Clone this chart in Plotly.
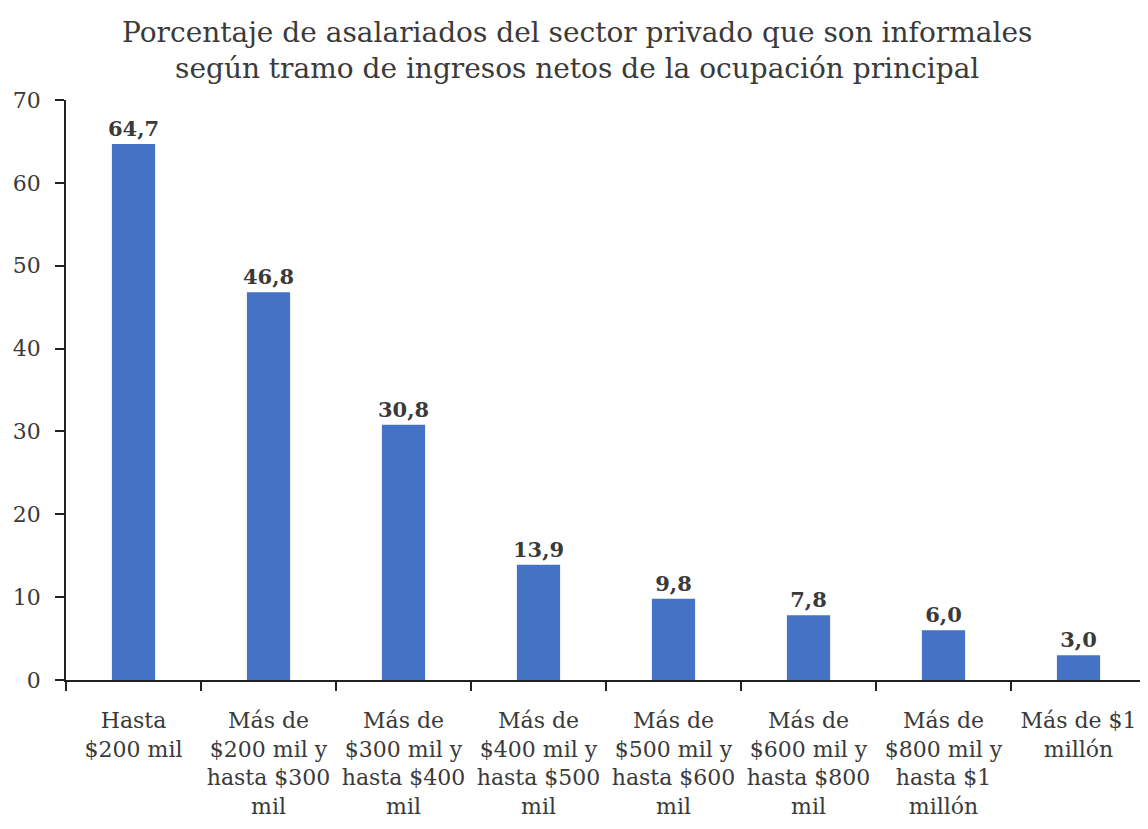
import plotly.graph_objects as go

# Data
categorias = [
    "Hasta<br>$200 mil",
    "Más de<br>$200 mil y<br>hasta $300<br>mil",
    "Más de<br>$300 mil y<br>hasta $400<br>mil",
    "Más de<br>$400 mil y<br>hasta $500<br>mil",
    "Más de<br>$500 mil y<br>hasta $600<br>mil",
    "Más de<br>$600 mil y<br>hasta $800<br>mil",
    "Más de<br>$800 mil y<br>hasta $1<br>millón",
    "Más de $1<br>millón",
]
porcentajes = [64.7, 46.8, 30.8, 13.9, 9.8, 7.8, 6.0, 3.0]

SERIF = "DejaVu Serif, Liberation Serif, serif"
TEXT = "#3a3a3a"

fig = go.Figure()

fig.add_trace(
    go.Bar(x=categorias,
           y=porcentajes,
           marker=dict(color="#4472C4", line=dict(width=0)),
           texttemplate="<b>%{y:.1f}</b>",
           textposition="outside",
           constraintext="none",
           cliponaxis=False,
           textfont=dict(family=SERIF, size=21, color=TEXT)))

# Title as annotation so both lines sit where the reference has them
fig.add_annotation(text="Porcentaje de asalariados del sector privado que son informales<br>"
                   "según tramo de ingresos netos de la ocupación principal",
                   xref="paper",
                   yref="paper",
                   x=0.4736,
                   y=1.086,
                   xanchor="center",
                   yanchor="middle",
                   showarrow=False,
                   align="center",
                   font=dict(family=SERIF, size=28, color=TEXT))

# page body adds an 8px offset, so the figure is sized 8px smaller
fig.update_layout(
    separators=",.",
    width=1140,
    height=821,
    margin=dict(l=58, r=2, t=92, b=149),
    plot_bgcolor="white",
    paper_bgcolor="white",
    font=dict(family=SERIF, size=22, color=TEXT),
    bargap=0.68,
    showlegend=False,
    xaxis=dict(showline=True,
               linecolor="#222",
               linewidth=1.5,
               ticks="outside",
               tickson="boundaries",
               ticklen=9,
               tickcolor="#222",
               tickwidth=1.5,
               tickangle=0,
               showgrid=False,
               automargin=False,
               ticklabelstandoff=20,
               tickfont=dict(family=SERIF, size=22, color=TEXT)),
    yaxis=dict(range=[0, 70],
               dtick=10,
               showline=True,
               linecolor="#222",
               linewidth=1.5,
               ticks="outside",
               ticklen=9,
               tickcolor="#222",
               tickwidth=1.5,
               showgrid=False,
               zeroline=False,
               automargin=False,
               ticklabelstandoff=10,
               tickfont=dict(family=SERIF, size=22, color=TEXT)))

fig.write_html("out.html")
